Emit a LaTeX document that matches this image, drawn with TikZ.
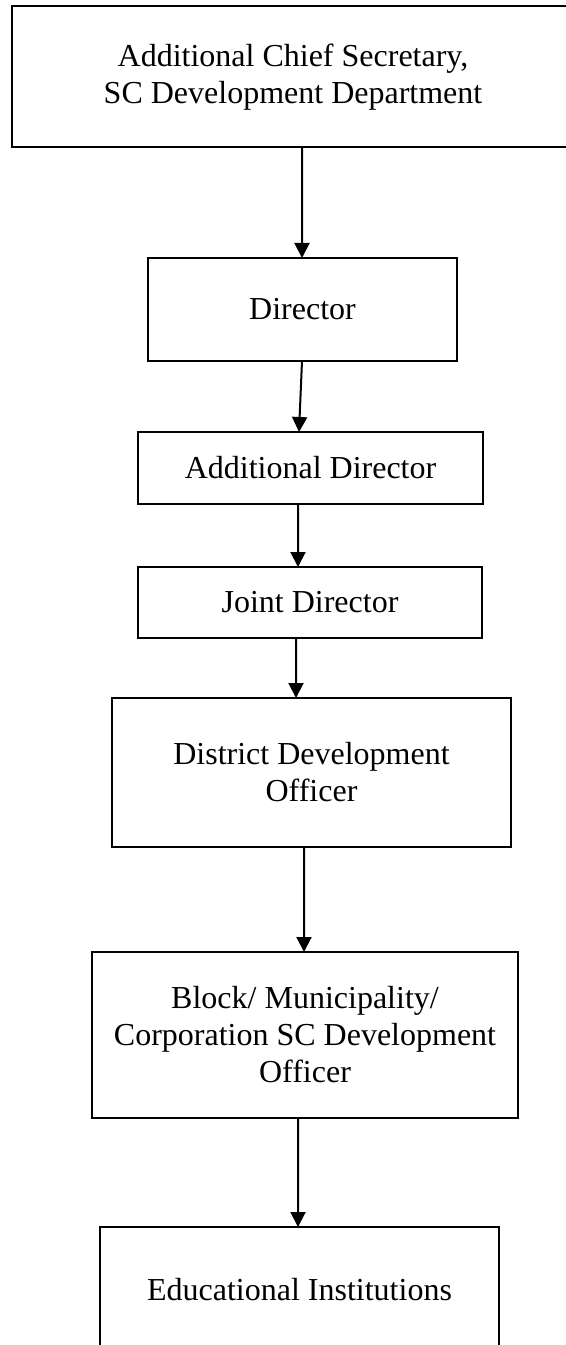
\documentclass[tikz,border=0pt]{standalone}
\usepackage{fontspec}
\setmainfont{Liberation Serif}
\usetikzlibrary{arrows.meta}
\begin{document}
\begin{tikzpicture}[x=1bp,y=-1bp,
  box/.style={draw=black, line width=2bp, inner sep=0pt, outer sep=0pt, align=center,
    font=\fontsize{32bp}{37bp}\selectfont},
  lbl/.style={inner sep=0pt, align=center, font=\fontsize{32bp}{37bp}\selectfont},
  conn/.style={line width=2bp, -{Triangle[length=15bp,width=15bp]}}]
\clip (0,0) rectangle (566,1345);
\node[box, minimum width=568bp, minimum height=141bp] (acs) at (296,76.5) {};
\node[lbl] (acst) at (293,77.5) {Additional Chief Secretary,\\SC Development Department};
\node[box, minimum width=309bp, minimum height=103bp] (dir) at (302.5,309.5) {Director};
\node[box, minimum width=345bp, minimum height=72bp] (add) at (310.5,468) {Additional Director};
\node[box, minimum width=344bp, minimum height=71bp] (jd) at (310,602.5) {Joint Director};
\node[box, minimum width=399bp, minimum height=149bp] (ddo) at (311.5,772.5) {District Development\\Officer};
\node[box, minimum width=426bp, minimum height=166bp] (blk) at (305,1035) {Block/ Municipality/\\Corporation SC Development\\Officer};
\node[box, minimum width=399bp, minimum height=126bp] (edu) at (299.5,1290) {Educational Institutions};
\draw[conn] ([xshift=6bp]acs.south) -- ([xshift=-0.5bp]dir.north);
\draw[conn] ([xshift=-0.5bp]dir.south) -- ([xshift=-11.5bp]add.north);
\draw[conn] ([xshift=-12.5bp]add.south) -- ([xshift=-12bp]jd.north);
\draw[conn] ([xshift=-14bp]jd.south) -- ([xshift=-15.5bp]ddo.north);
\draw[conn] ([xshift=-7.5bp]ddo.south) -- ([xshift=-1bp]blk.north);
\draw[conn] ([xshift=-7bp]blk.south) -- ([xshift=-1.5bp]edu.north);
\end{tikzpicture}
\end{document}
